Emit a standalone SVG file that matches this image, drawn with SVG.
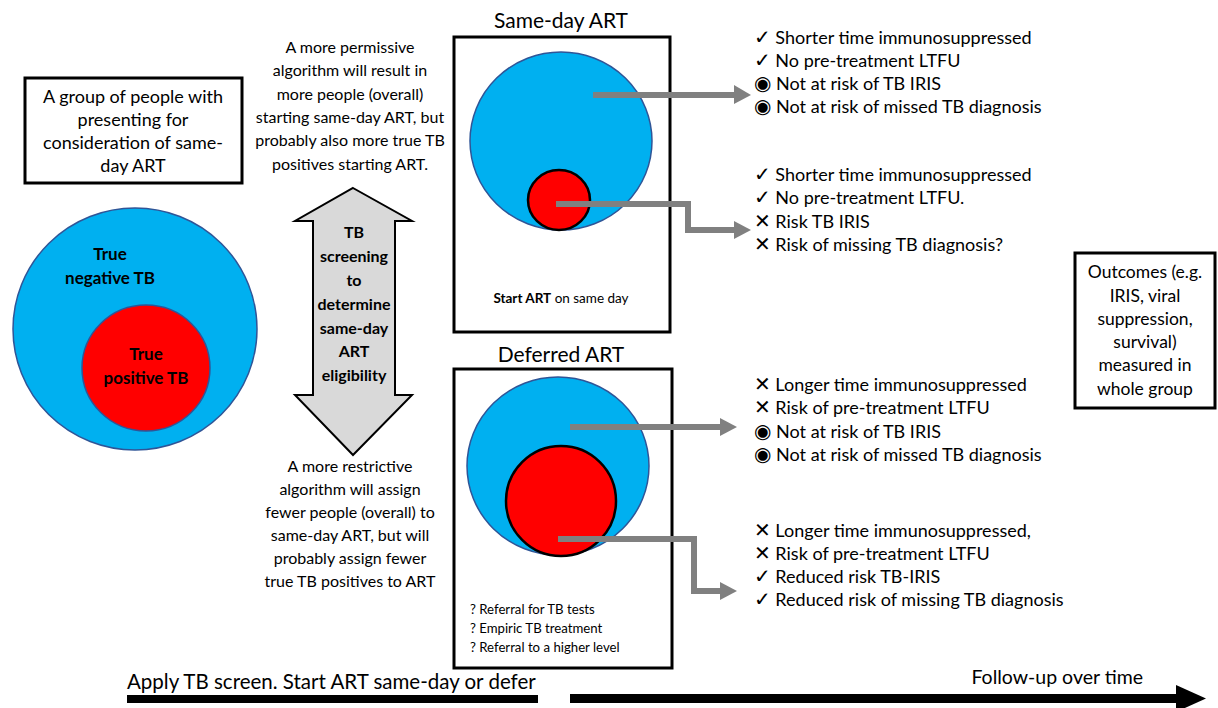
<svg xmlns="http://www.w3.org/2000/svg" width="1218" height="708" viewBox="0 0 1218 708">
<defs>
<style>
text{font-family:Lato,"Liberation Sans",sans-serif;fill:#000}
.c{text-anchor:middle}
.b{font-weight:bold}
.box{fill:#fff;stroke:#000;stroke-width:3}
.blue{fill:#00B0F0;stroke:#2F5597;stroke-width:1.5}
.red{fill:#FF0000;stroke:#000;stroke-width:2.5}
.red0{fill:#FF0000;stroke:#2F5597;stroke-width:1.5}
.g{fill:none;stroke:#808080;stroke-width:6}
.gh{fill:#808080}
.t17{font-size:17.5px}
.t18{font-size:18px}
.t15{font-size:16px}
.sym{font-family:"DejaVu Sans",sans-serif;font-size:20px}
</style>
</defs>

<g id="intro-box">
<rect class="box" x="25" y="78" width="217" height="105"/>
<text class="c t18" x="133" y="103">A group of people with</text>
<text class="c t18" x="133" y="126">presenting for</text>
<text class="c t18" x="133" y="149">consideration of same-</text>
<text class="c t18" x="133" y="172">day ART</text>
</g>

<g id="population">
<ellipse class="blue" cx="135" cy="329" rx="122" ry="121"/>
<ellipse class="red0" cx="146" cy="368" rx="64" ry="63"/>
<text class="c b" font-size="17" x="110" y="260">True</text>
<text class="c b" font-size="17" x="110" y="284">negative TB</text>
<text class="c b" font-size="17" x="146" y="360">True</text>
<text class="c b" font-size="17" x="146" y="384">positive TB</text>
</g>

<g id="permissive-note">
<text class="c t15" x="350" y="53">A more permissive</text>
<text class="c t15" x="350" y="76">algorithm will result in</text>
<text class="c t15" x="350" y="100">more people (overall)</text>
<text class="c t15" x="350" y="123">starting same-day ART, but</text>
<text class="c t15" x="350" y="146">probably also more true TB</text>
<text class="c t15" x="350" y="170">positives starting ART.</text>
</g>

<g id="screening-arrow">
<polygon points="353,188 412,221 395,221 395,395 412,395 353,455 295,395 313,395 313,221 295,221" fill="#D9D9D9" stroke="#000" stroke-width="2"/>
<text class="c b t15" x="354" y="238">TB</text>
<text class="c b t15" x="354" y="262">screening</text>
<text class="c b t15" x="354" y="286">to</text>
<text class="c b t15" x="354" y="310">determine</text>
<text class="c b t15" x="354" y="334">same-day</text>
<text class="c b t15" x="354" y="357">ART</text>
<text class="c b t15" x="354" y="381">eligibility</text>
</g>

<g id="restrictive-note">
<text class="c t15" x="350" y="472">A more restrictive</text>
<text class="c t15" x="350" y="495">algorithm will assign</text>
<text class="c t15" x="350" y="518">fewer people (overall) to</text>
<text class="c t15" x="350" y="541">same-day ART, but will</text>
<text class="c t15" x="350" y="564">probably assign fewer</text>
<text class="c t15" x="350" y="587">true TB positives to ART</text>
</g>

<g id="same-day">
<text class="c" x="561" y="28" font-size="21">Same-day ART</text>
<rect class="box" x="454" y="37" width="216" height="295"/>
<ellipse class="blue" cx="561" cy="141" rx="91" ry="89"/>
<ellipse class="red" cx="559" cy="200" rx="31" ry="30"/>
<text class="c" x="561" y="303" font-size="13.5"><tspan font-weight="bold">Start ART</tspan> on same day</text>
</g>

<g id="deferred">
<text class="c" x="561" y="362" font-size="21">Deferred ART</text>
<rect class="box" x="454" y="369" width="218" height="299"/>
<ellipse class="blue" cx="558" cy="466" rx="91" ry="89"/>
<ellipse class="red" cx="561" cy="501" rx="55" ry="55"/>
<text x="470" y="614" font-size="13.2">? Referral for TB tests</text>
<text x="470" y="633" font-size="13.2">? Empiric TB treatment</text>
<text x="470" y="652" font-size="13.2">? Referral to a higher level</text>
</g>

<g id="connectors">
<polyline class="g" points="593,95 736,95"/>
<polygon class="gh" points="734,85 751,95 734,104"/>
<polyline class="g" points="556,204 688,204 688,230 736,230"/>
<polygon class="gh" points="734,221 751,230 734,239"/>
<polyline class="g" points="570,427 722,427"/>
<polygon class="gh" points="720,418 737,427 720,436"/>
<polyline class="g" points="558,539 694,539 694,591 722,591"/>
<polygon class="gh" points="720,582 737,591 720,600"/>
</g>

<g id="sameday-neg-outcomes">
<text class="t18" x="754" y="44"><tspan class="sym">✓</tspan> Shorter time immunosuppressed</text>
<text class="t18" x="754" y="67"><tspan class="sym">✓</tspan> No pre-treatment LTFU</text>
<text class="t18" x="754" y="90"><tspan class="sym">◉</tspan> Not at risk of TB IRIS</text>
<text class="t18" x="754" y="113"><tspan class="sym">◉</tspan> Not at risk of missed TB diagnosis</text>
</g>
<g id="sameday-pos-outcomes">
<text class="t18" x="754" y="181"><tspan class="sym">✓</tspan> Shorter time immunosuppressed</text>
<text class="t18" x="754" y="204"><tspan class="sym">✓</tspan>  No pre-treatment LTFU.</text>
<text class="t18" x="754" y="228"><tspan class="sym">✕</tspan> Risk TB IRIS</text>
<text class="t18" x="754" y="251"><tspan class="sym">✕</tspan> Risk of missing TB diagnosis?</text>
</g>
<g id="deferred-neg-outcomes">
<text class="t18" x="754" y="391"><tspan class="sym">✕</tspan> Longer time immunosuppressed</text>
<text class="t18" x="754" y="414"><tspan class="sym">✕</tspan> Risk of pre-treatment LTFU</text>
<text class="t18" x="754" y="438"><tspan class="sym">◉</tspan> Not at risk of TB IRIS</text>
<text class="t18" x="754" y="461"><tspan class="sym">◉</tspan> Not at risk of missed TB diagnosis</text>
</g>
<g id="deferred-pos-outcomes">
<text class="t18" x="754" y="537"><tspan class="sym">✕</tspan> Longer time immunosuppressed,</text>
<text class="t18" x="754" y="560"><tspan class="sym">✕</tspan> Risk of pre-treatment LTFU</text>
<text class="t18" x="754" y="583"><tspan class="sym">✓</tspan> Reduced risk TB-IRIS</text>
<text class="t18" x="754" y="606"><tspan class="sym">✓</tspan> Reduced risk of missing TB diagnosis</text>
</g>

<g id="outcomes-box">
<rect class="box" x="1075" y="253" width="140" height="155"/>
<text class="c t17" x="1145" y="278">Outcomes (e.g.</text>
<text class="c t17" x="1145" y="302">IRIS, viral</text>
<text class="c t17" x="1145" y="325">suppression,</text>
<text class="c t17" x="1145" y="348">survival)</text>
<text class="c t17" x="1145" y="371">measured in</text>
<text class="c t17" x="1145" y="395">whole group</text>
</g>

<g id="timeline">
<text x="127" y="689" font-size="20.5">Apply TB screen. Start ART same-day or defer</text>
<rect x="127" y="695" width="411" height="8" fill="#000"/>
<text x="1143" y="684" font-size="19.5" text-anchor="end">Follow-up over time</text>
<rect x="570" y="694" width="610" height="9" fill="#000"/>
<polygon points="1176,685 1206,698.5 1176,712" fill="#000"/>
</g>
</svg>
